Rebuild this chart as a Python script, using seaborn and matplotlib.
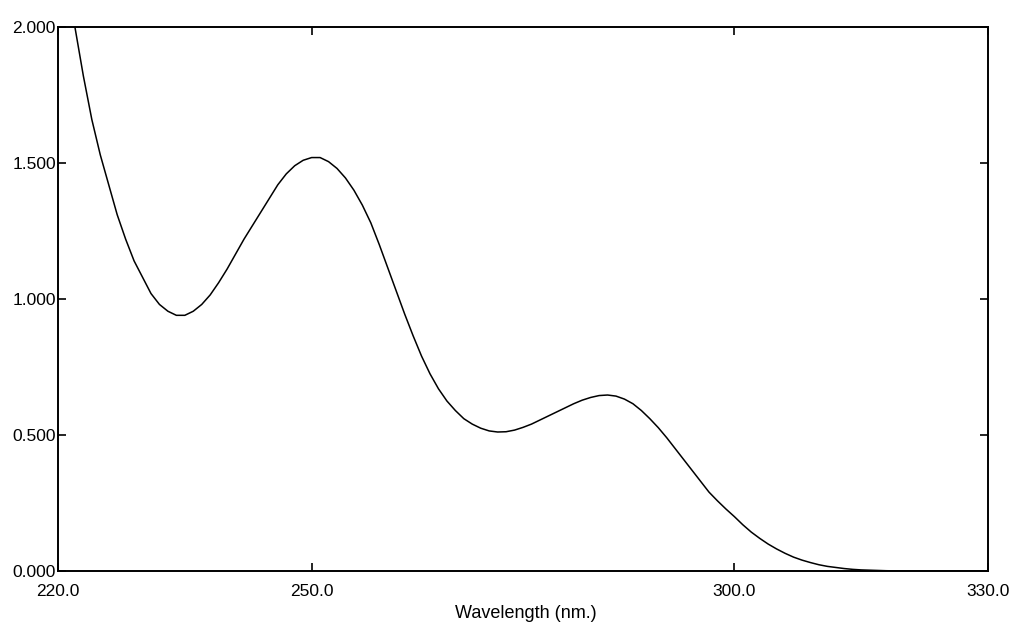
import matplotlib
matplotlib.use("Agg")
import matplotlib.pyplot as plt
from matplotlib.ticker import FormatStrFormatter
import seaborn as sns

# Absorption spectrum: wavelength (nm) and absorbance
wavelength = [222, 223, 224, 225, 226, 227, 228, 229, 230, 231, 232, 233, 234, 235,
              236, 237, 238, 239, 240, 241, 242, 243, 244, 245, 246, 247, 248, 249,
              250, 251, 252, 253, 254, 255, 256, 257, 258, 259, 260, 261, 262, 263,
              264, 265, 266, 267, 268, 269, 270, 271, 272, 273, 274, 275, 276, 277,
              278, 279, 280, 281, 282, 283, 284, 285, 286, 287, 288, 289, 290, 291,
              292, 293, 294, 295, 296, 297, 298, 299, 300, 301, 302, 303, 304, 305,
              306, 307, 308, 309, 310, 311, 312, 313, 314, 315, 316, 317, 318, 320,
              325, 330]
absorbance = [2.00, 1.82, 1.66, 1.53, 1.42, 1.31, 1.22, 1.14, 1.08, 1.02, 0.98, 0.955,
              0.94, 0.94, 0.955, 0.98, 1.015, 1.06, 1.11, 1.165, 1.22, 1.27, 1.32, 1.37,
              1.42, 1.46, 1.49, 1.51, 1.52, 1.52, 1.505, 1.48, 1.445, 1.40, 1.345, 1.28,
              1.20, 1.115, 1.03, 0.945, 0.865, 0.79, 0.725, 0.67, 0.625, 0.59, 0.56, 0.54,
              0.525, 0.515, 0.511, 0.512, 0.518, 0.528, 0.54, 0.555, 0.57, 0.585, 0.60,
              0.615, 0.628, 0.638, 0.645, 0.647, 0.643, 0.632, 0.615, 0.59, 0.56, 0.527,
              0.49, 0.45, 0.41, 0.37, 0.33, 0.29, 0.258, 0.228, 0.20, 0.17, 0.143, 0.12,
              0.099, 0.081, 0.065, 0.051, 0.04, 0.031, 0.023, 0.017, 0.013, 0.009, 0.006,
              0.004, 0.003, 0.002, 0.001, 0.0, 0.0, 0.0]

x_ticks = [220, 250, 300, 330]
y_ticks = [0.0, 0.5, 1.0, 1.5, 2.0]
x_label = "Wavelength (nm.)"

sns.set_theme(style="white")
plt.rcParams["font.family"] = ["Liberation Sans", "DejaVu Sans"]

fig = plt.figure(figsize=(10.13, 6.22), dpi=100)
ax = fig.add_axes([58 / 1013, 51 / 622, 930 / 1013, 544 / 622])

sns.lineplot(x=wavelength, y=absorbance, ax=ax, color="black", linewidth=1.1,
             estimator=None, sort=False)

ax.set_xlim(220, 330)
ax.set_ylim(0, 2.0)
ax.set_xticks(x_ticks)
ax.set_yticks(y_ticks)
ax.xaxis.set_major_formatter(FormatStrFormatter("%.1f"))
ax.yaxis.set_major_formatter(FormatStrFormatter("%.3f"))

ax.tick_params(axis="both", which="major", direction="in", length=6, width=1.2,
               color="black", labelsize=12.5, labelcolor="black",
               top=True, right=True, bottom=True, left=True)
ax.tick_params(axis="x", pad=9)
ax.tick_params(axis="y", pad=1.5)

for side in ["left", "right", "top", "bottom"]:
    ax.spines[side].set_visible(True)
    ax.spines[side].set_color("black")
    ax.spines[side].set_linewidth(1.4)

ax.set_xlabel(x_label, fontsize=13, color="black")
ax.xaxis.set_label_coords((526 - 58) / 930, (571 - 605) / 544)
ax.set_ylabel("")
ax.grid(False)

fig.savefig("out.png", dpi=100, facecolor="white")
